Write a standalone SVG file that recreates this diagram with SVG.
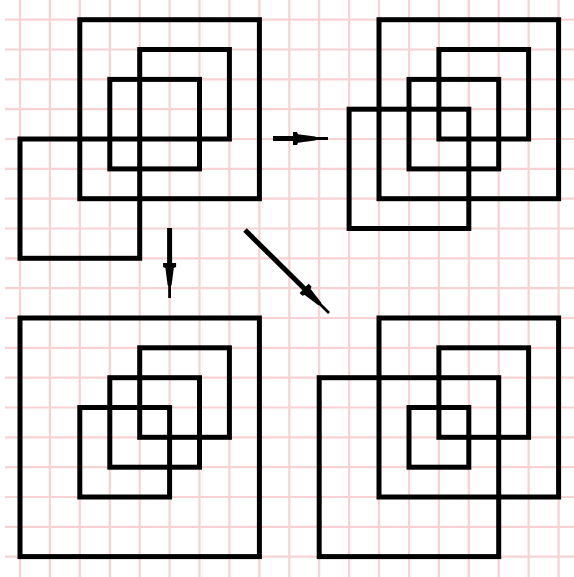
<svg xmlns="http://www.w3.org/2000/svg" xmlns:xlink="http://www.w3.org/1999/xlink" width="574" height="577" viewBox="0 0 574 577">
<style>
.g line{stroke:#f8d2d2;stroke-width:2.2}
.sq rect{fill:none;stroke:#000;stroke-width:5}
.shaft{stroke:#000;stroke-width:5;fill:none}
</style>
<defs>
<path id="head" d="M-35,-2.5 L-35,-6.5 L-31,-6.5 L-30,-4.2 L-13,-2 L-12,-1.4 L0,-1.4 L0,1.4 L-12,1.4 L-13,2 L-30,4.2 L-31,6.5 L-35,6.5 L-35,2.5 Z" fill="#000"/>
</defs>
<rect width="574" height="577" fill="#fff"/>
<g class="g" id="grid">
<line x1="20" y1="0" x2="20" y2="577"/>
<line x1="49.9" y1="0" x2="49.9" y2="577"/>
<line x1="79.8" y1="0" x2="79.8" y2="577"/>
<line x1="109.8" y1="0" x2="109.8" y2="577"/>
<line x1="139.7" y1="0" x2="139.7" y2="577"/>
<line x1="169.6" y1="0" x2="169.6" y2="577"/>
<line x1="199.5" y1="0" x2="199.5" y2="577"/>
<line x1="229.4" y1="0" x2="229.4" y2="577"/>
<line x1="259.4" y1="0" x2="259.4" y2="577"/>
<line x1="289.3" y1="0" x2="289.3" y2="577"/>
<line x1="319.2" y1="0" x2="319.2" y2="577"/>
<line x1="349.1" y1="0" x2="349.1" y2="577"/>
<line x1="379" y1="0" x2="379" y2="577"/>
<line x1="409" y1="0" x2="409" y2="577"/>
<line x1="438.9" y1="0" x2="438.9" y2="577"/>
<line x1="468.8" y1="0" x2="468.8" y2="577"/>
<line x1="498.7" y1="0" x2="498.7" y2="577"/>
<line x1="528.6" y1="0" x2="528.6" y2="577"/>
<line x1="558.6" y1="0" x2="558.6" y2="577"/>
<line x1="5" y1="19.7" x2="574" y2="19.7"/>
<line x1="5" y1="49.5" x2="574" y2="49.5"/>
<line x1="5" y1="79.4" x2="574" y2="79.4"/>
<line x1="5" y1="109.2" x2="574" y2="109.2"/>
<line x1="5" y1="139" x2="574" y2="139"/>
<line x1="5" y1="168.9" x2="574" y2="168.9"/>
<line x1="5" y1="198.7" x2="574" y2="198.7"/>
<line x1="5" y1="228.5" x2="574" y2="228.5"/>
<line x1="5" y1="258.3" x2="574" y2="258.3"/>
<line x1="5" y1="288.2" x2="574" y2="288.2"/>
<line x1="5" y1="318" x2="574" y2="318"/>
<line x1="5" y1="347.8" x2="574" y2="347.8"/>
<line x1="5" y1="377.7" x2="574" y2="377.7"/>
<line x1="5" y1="407.5" x2="574" y2="407.5"/>
<line x1="5" y1="437.3" x2="574" y2="437.3"/>
<line x1="5" y1="467.2" x2="574" y2="467.2"/>
<line x1="5" y1="497" x2="574" y2="497"/>
<line x1="5" y1="526.8" x2="574" y2="526.8"/>
<line x1="5" y1="556.6" x2="574" y2="556.6"/>
</g>
<g class="sq" id="panel-top-left">
<rect x="79.8" y="19.7" width="179.6" height="179"/>
<rect x="139.7" y="49.5" width="89.7" height="89.5"/>
<rect x="109.8" y="79.4" width="89.7" height="89.5"/>
<rect x="20" y="139" width="119.7" height="119.3"/>
</g>
<g class="sq" id="panel-top-right">
<rect x="379" y="19.7" width="179.6" height="179"/>
<rect x="438.9" y="49.5" width="89.7" height="89.5"/>
<rect x="409" y="79.4" width="89.7" height="89.5"/>
<rect x="349.1" y="109.2" width="119.7" height="119.3"/>
</g>
<g class="sq" id="panel-bottom-left">
<rect x="20" y="318" width="239.4" height="238.6"/>
<rect x="139.7" y="347.8" width="89.7" height="89.5"/>
<rect x="109.8" y="377.7" width="89.7" height="89.5"/>
<rect x="79.8" y="407.5" width="89.8" height="89.5"/>
</g>
<g class="sq" id="panel-bottom-right">
<rect x="379" y="318" width="179.6" height="179"/>
<rect x="438.9" y="347.8" width="89.7" height="89.5"/>
<rect x="319.2" y="377.7" width="179.5" height="178.9"/>
<rect x="409" y="407.5" width="59.8" height="59.7"/>
</g>
<g id="connectors">
<g id="arrow-right">
<line class="shaft" x1="273" y1="138.5" x2="294" y2="138.5"/>
<use xlink:href="#head" href="#head" transform="translate(328,138.5)"/>
</g>
<g id="arrow-down">
<line class="shaft" x1="169.6" y1="228" x2="169.6" y2="264"/>
<use xlink:href="#head" href="#head" transform="translate(169.6,298) rotate(90)"/>
</g>
<g id="arrow-diagonal">
<line class="shaft" x1="245" y1="230" x2="305.5" y2="289.8"/>
<use xlink:href="#head" href="#head" transform="translate(329,313) rotate(44.66)"/>
</g>
</g>
</svg>
